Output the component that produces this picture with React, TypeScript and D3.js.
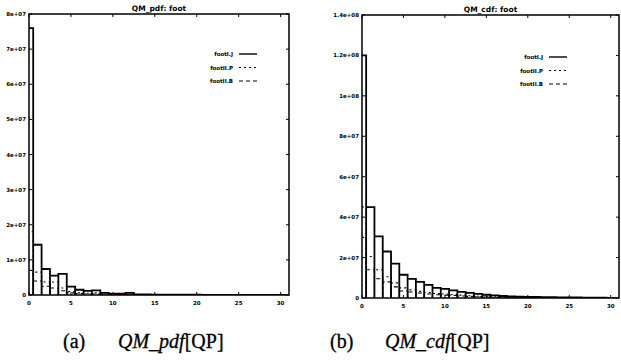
import React from 'react'
import * as d3 from 'd3'

// bins (integer centres), shared by both panels
const bins = [0, 1, 2, 3, 4, 5, 6, 7, 8, 9, 10, 11, 12, 13, 14, 15, 16, 17, 18, 19, 20, 21, 22, 23, 24, 25, 26, 27, 28, 29, 30]
const xTicks = [0, 5, 10, 15, 20, 25, 30]

// QM_pdf: foot
const pdfJ = [7.6e7, 1.43e7, 0.74e7, 0.55e7, 0.6e7, 0.24e7, 0.15e7, 0.12e7, 0.13e7, 0.06e7, 0.04e7, 0.04e7, 0.06e7, 0.02e7, 0.015e7, 0.012e7, 0.01e7, 0.01e7, 0.008e7, 0.008e7, 0.007e7, 0.006e7, 0.006e7, 0.005e7, 0.005e7, 0.004e7, 0.004e7, 0.003e7, 0.003e7, 0.002e7, 0.002e7]
const pdfP = [1.8e7, 0.65e7, 0.37e7, 0.37e7, 0.2e7, 0.1e7, 0.06e7, 0.05e7, 0.06e7, 0.03e7, 0.02e7, 0.02e7, 0.03e7, 0.01e7, 0.008e7, 0.006e7, 0.005e7, 0.005e7, 0.004e7, 0.004e7, 0.003e7, 0.003e7, 0.003e7, 0.002e7, 0.002e7, 0.002e7, 0.002e7, 0.001e7, 0.001e7, 0.001e7, 0.001e7]
const pdfB = [0.7e7, 0.4e7, 0.25e7, 0.2e7, 0.12e7, 0.06e7, 0.04e7, 0.03e7, 0.03e7, 0.02e7, 0.01e7, 0.01e7, 0.015e7, 0.005e7, 0.004e7, 0.003e7, 0.003e7, 0.002e7, 0.002e7, 0.002e7, 0.002e7, 0.001e7, 0.001e7, 0.001e7, 0.001e7, 0.001e7, 0.001e7, 0.001e7, 0.001e7, 0.001e7, 0.001e7]
const pdfYTicks = [0, 1e7, 2e7, 3e7, 4e7, 5e7, 6e7, 7e7, 8e7]
const pdfYLabels = ['0', '1e+07', '2e+07', '3e+07', '4e+07', '5e+07', '6e+07', '7e+07', '8e+07']

// QM_cdf: foot
const cdfJ = [1.2e8, 4.5e7, 3.05e7, 2.3e7, 1.7e7, 1.15e7, 0.95e7, 0.8e7, 0.65e7, 0.5e7, 0.45e7, 0.38e7, 0.3e7, 0.25e7, 0.2e7, 0.16e7, 0.13e7, 0.1e7, 0.08e7, 0.07e7, 0.06e7, 0.05e7, 0.045e7, 0.04e7, 0.035e7, 0.03e7, 0.025e7, 0.02e7, 0.02e7, 0.015e7, 0.01e7]
const cdfP = [4.5e7, 2.05e7, 1.4e7, 1.05e7, 0.75e7, 0.5e7, 0.4e7, 0.33e7, 0.27e7, 0.22e7, 0.2e7, 0.17e7, 0.14e7, 0.11e7, 0.09e7, 0.07e7, 0.06e7, 0.05e7, 0.04e7, 0.035e7, 0.03e7, 0.025e7, 0.02e7, 0.02e7, 0.015e7, 0.015e7, 0.01e7, 0.01e7, 0.01e7, 0.008e7, 0.005e7]
const cdfB = [3e7, 1.4e7, 0.95e7, 0.8e7, 0.55e7, 0.35e7, 0.3e7, 0.25e7, 0.2e7, 0.16e7, 0.14e7, 0.12e7, 0.1e7, 0.08e7, 0.06e7, 0.05e7, 0.04e7, 0.035e7, 0.03e7, 0.025e7, 0.02e7, 0.018e7, 0.015e7, 0.012e7, 0.01e7, 0.01e7, 0.008e7, 0.007e7, 0.006e7, 0.005e7, 0.004e7]
const cdfYTicks = [0, 2e7, 4e7, 6e7, 8e7, 1e8, 1.2e8, 1.4e8]
const cdfYLabels = ['0', '2e+07', '4e+07', '6e+07', '8e+07', '1e+08', '1.2e+08', '1.4e+08']

const legendNames = ['footI.J', 'footII.P', 'footII.B']
const legendDash = ['none', '2,3', '4,3']

const font = "'DejaVu Sans', sans-serif"

type PanelProps = {
  id: string
  title: string
  left: number
  right: number
  top: number
  bottom: number
  yMax: number
  yTicks: number[]
  yLabels: string[]
  series: number[][]
  legendX: number
  legendY: number
}

const Panel = ({ id, title, left, right, top, bottom, yMax, yTicks, yLabels, series, legendX, legendY }: PanelProps) => {
  const x = d3.scaleLinear().domain([0, 31]).range([left, right])
  const y = d3.scaleLinear().domain([0, yMax]).range([bottom, top])

  // gnuplot-style boxes centred on each bin
  const box = (vals: number[]) => {
    const p = d3.path()
    bins.forEach((b, i) => {
      const x0 = x(b - 0.5), x1 = x(b + 0.5)
      p.moveTo(x0, y(0))
      p.lineTo(x0, y(vals[i]))
      p.lineTo(x1, y(vals[i]))
      p.lineTo(x1, y(0))
    })
    return p.toString()
  }

  return (
    <g>
      <defs>
        <clipPath id={'clip-' + id}>
          <rect x={left} y={top} width={right - left} height={bottom - top} />
        </clipPath>
      </defs>
      <text x={(left + right) / 2} y={top - 3} textAnchor="middle" fontFamily={font} fontWeight="bold" fontSize={7.5}>{title}</text>
      <g clipPath={`url(#clip-${id})`}>
        {series.map((s, k) => (
          <path key={k} d={box(s)} fill="none" stroke="#000"
            strokeWidth={k === 0 ? 1.8 : 1.1}
            strokeDasharray={legendDash[k] === 'none' ? undefined : legendDash[k]} />
        ))}
      </g>
      <rect x={left} y={top} width={right - left} height={bottom - top} fill="none" stroke="#000" strokeWidth={1.5} />
      {xTicks.map(t => (
        <g key={'x' + t}>
          <line x1={x(t)} x2={x(t)} y1={bottom} y2={bottom - 3} stroke="#000" />
          <line x1={x(t)} x2={x(t)} y1={top} y2={top + 3} stroke="#000" />
          <text x={x(t)} y={bottom + 10} textAnchor="middle" fontFamily={font} fontWeight="bold" fontSize={5.5}>{t}</text>
        </g>
      ))}
      {yTicks.map((t, i) => (
        <g key={'y' + t}>
          <line x1={left} x2={left + 3} y1={y(t)} y2={y(t)} stroke="#000" />
          <line x1={right} x2={right - 3} y1={y(t)} y2={y(t)} stroke="#000" />
          <text x={left - 3} y={y(t) + 2} textAnchor="end" fontFamily={font} fontWeight="bold" fontSize={5.5}>{yLabels[i]}</text>
        </g>
      ))}
      {legendNames.map((n, i) => (
        <g key={n}>
          <text x={legendX} y={legendY + i * 13.5 + 2} textAnchor="end" fontFamily={font} fontWeight="bold" fontSize={5.5}>{n}</text>
          <line x1={legendX + 6} x2={legendX + 24} y1={legendY + i * 13.5} y2={legendY + i * 13.5} stroke="#000"
            strokeWidth={i === 0 ? 1.4 : 1}
            strokeDasharray={legendDash[i] === 'none' ? undefined : legendDash[i]} />
        </g>
      ))}
    </g>
  )
}

const App = () => {
  return (
    <svg width={621} height={360} style={{ position: 'absolute', left: 0, top: 0, background: '#fff' }}>
      <Panel id="pdf" title="QM_pdf: foot" left={29} right={289} top={14} bottom={295}
        yMax={8e7} yTicks={pdfYTicks} yLabels={pdfYLabels} series={[pdfJ, pdfP, pdfB]}
        legendX={233} legendY={54} />
      <Panel id="cdf" title="QM_cdf: foot" left={362} right={619} top={15} bottom={298}
        yMax={1.4e8} yTicks={cdfYTicks} yLabels={cdfYLabels} series={[cdfJ, cdfP, cdfB]}
        legendX={543} legendY={57} />
      <g fontFamily="'Liberation Serif', serif" fontSize={20} stroke="#000" strokeWidth={0.3}>
        <text x={63} y={348}>(a)</text>
        <text x={118} y={348}><tspan fontStyle="italic">QM_pdf</tspan>[QP]</text>
        <text x={330} y={348}>(b)</text>
        <text x={385} y={348}><tspan fontStyle="italic">QM_cdf</tspan>[QP]</text>
      </g>
    </svg>
  )
}

export default App
